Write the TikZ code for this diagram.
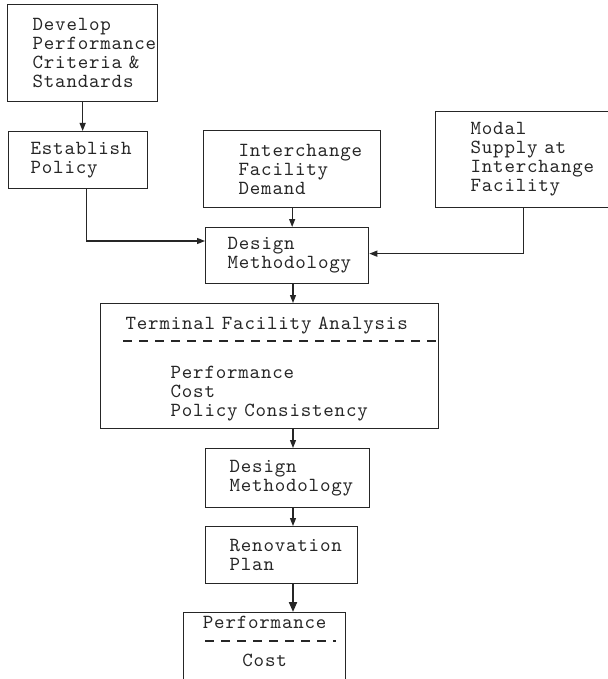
\documentclass[tikz,border=0pt]{standalone}
\usepackage{fontspec}
\newfontfamily\typew{lmmono10-regular.otf}[LetterSpace=4, WordSpace={1.08,0,0}]
\usetikzlibrary{arrows.meta,positioning,calc}
\newcommand\boxfont{\typew\fontsize{20}{19}\selectfont\hyphenpenalty=10000\relax}

\begin{document}
\begin{tikzpicture}[
  x=1pt, y=-1pt,
  blk/.style={draw=black!85, anchor=north west, align=left, inner ysep=0pt, text=black!85, font=\boxfont},
  >={Triangle[length=8pt,width=6pt]}, line width=1.3pt
]
  \useasboundingbox (0,0) rectangle (607,679);
  \coordinate (spine) at (293,0);

  \node[blk, inner xsep=25pt, text width=100pt, minimum height=97pt] (crit) at (7,4) {Develop\\Performance\\Criteria~\&\\Standards};
  \node[blk, inner xsep=22pt, text width=95pt, minimum height=57pt] (pol) at (8,131) {Establish\\Policy};
  \node[blk, inner xsep=35pt, text width=107pt, minimum height=77pt] (dem) at (203,130) {Interchange\\Facility\\Demand};
  \node[blk, inner xsep=35pt, text width=105pt, minimum height=96pt] (sup) at (435,111) {Modal\\Supply~at\\Interchange\\Facility};
  \node[blk, inner xsep=22pt, text width=119pt, minimum height=56pt] (meth) at (205,227) {Design\\Methodology};
  \node[blk, inner xsep=25pt, text width=288pt, minimum height=125pt, text depth=85pt] (tfa) at (100,303) {Terminal~Facility~Analysis\\[30pt]\hspace*{45pt}Performance\\\hspace*{45pt}Cost\\\hspace*{45pt}Policy~Consistency};
  \node[blk, inner xsep=24pt, text width=116pt, minimum height=59pt] (meth2) at (205,448) {Design\\Methodology};
  \node[blk, inner xsep=24pt, text width=104pt, minimum height=57pt] (plan) at (205,526) {Renovation\\Plan};
  \node[blk, align=center, inner xsep=10pt, text width=142pt, minimum height=70pt, text depth=50pt] (res) at (183,612) {Performance\\[19pt]Cost};

  \draw[black!85, dashed, dash pattern=on 9pt off 7pt] ([shift={(23,38)}]tfa.north west) -- ([yshift=-38pt]tfa.north east);
  \draw[black!85, dashed, dash pattern=on 9pt off 7pt] ([shift={(22,29)}]res.north west) -- ([shift={(-10,29)}]res.north east);

  \draw[->, black!85] (crit.south) -- (crit.south |- pol.north);
  \draw[->, black!85] ([xshift=8pt]pol.south) |- ([yshift=-14pt]meth.north west);
  \draw[->, black!85] (dem.south) -- (dem.south |- meth.north);
  \draw[->, black!85] (sup.south) |- ([yshift=2pt]meth.east);
  \draw[->, black!85] (meth.south -| spine) -- (tfa.north -| spine);
  \draw[->, black!85] (tfa.south -| spine) -- (meth2.north -| spine);
  \draw[->, black!85] (meth2.south -| spine) -- (plan.north -| spine);
  \draw[->, black!85, line width=2pt, >={Triangle[length=10pt,width=8pt]}] (plan.south -| spine) -- (res.north -| spine);
\end{tikzpicture}
\end{document}
